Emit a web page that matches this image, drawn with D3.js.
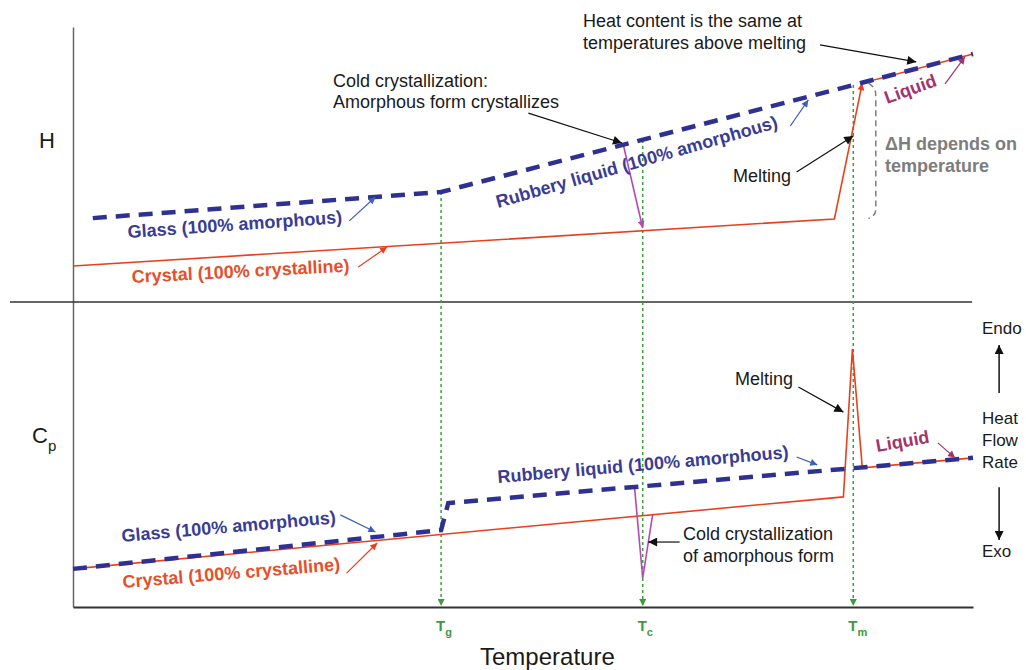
<!DOCTYPE html>
<html>
<head>
<meta charset="utf-8">
<script src="https://cdn.jsdelivr.net/npm/d3@7"></script>
<style>
  html, body { margin: 0; padding: 0; background: #ffffff; }
  svg { display: block; font-family: "Liberation Sans", Arial, sans-serif; }
</style>
</head>
<body>
<svg id="chart" width="1026" height="670"></svg>
<script>
// Relative temperature (0–100) and relative H / Cp values (0–100 in each panel)
const transitionNames = ["g", "c", "m"];
const transitionTemps = [40.9, 63.3, 86.7];
const guideStartH = [40, 58.9, 78.9];

// Enthalpy panel
const hAmorphous = [[2.2, 30.5], [40.9, 40], [100, 90.2]];
const hCrystal = [[0, 13.1], [84.6, 30.2], [87.7, 79.6], [100, 90.2]];
const hColdCryst = [[61.1, 57.8], [63.3, 26.9]];

// Heat capacity panel
const cpAmorphous = [[0, 12.5], [40.9, 25.2], [41.7, 34.1], [100, 48.9]];
const cpCrystal = [[0, 12.5], [85.6, 36.1], [86.6, 84.6], [87.7, 45.6], [100, 48.9]];
const cpColdCryst = [[62.4, 39], [63.3, 9.5], [64.4, 30.2]];

const BLUE = "#2e3192", BLUE_TXT = "#3a3c94", BLUE_ARROW = "#3c5fb8";
const RED = "#e8401c", RED_TXT = "#e5502c";
const GREEN = "#3c9c3c", PURPLE = "#b648b6", LIQ = "#a3336a", GREY = "#7d7d7d";

const svg = d3.select("#chart");
const x = d3.scaleLinear().domain([0, 100]).range([73, 973]);
const yH = d3.scaleLinear().domain([0, 100]).range([302, 27]);
const yCp = d3.scaleLinear().domain([0, 100]).range([607, 302]);

// arrowhead markers
const defs = svg.append("defs");
function marker(id, color, w, h) {
  defs.append("marker").attr("id", id)
    .attr("viewBox", "0 0 10 10").attr("refX", 10).attr("refY", 5)
    .attr("markerUnits", "userSpaceOnUse")
    .attr("markerWidth", w).attr("markerHeight", h)
    .attr("orient", "auto")
    .append("path").attr("d", "M0,0 L10,5 L0,10 Z").attr("fill", color);
}
marker("ah-black", "#111", 12, 9);
marker("ah-blue", BLUE_ARROW, 9, 7);
marker("ah-red", RED, 9, 7);
marker("ah-purple", PURPLE, 9, 7);
marker("ah-liq", LIQ, 9, 7);
marker("ah-green", GREEN, 8, 7);

// axes: shared left axis, panel separator, temperature axis
svg.append("g").attr("transform", `translate(${x(0)},0)`)
  .call(d3.axisLeft(d3.scaleLinear().range([yH(100), yCp(0)])).tickValues([]).tickSizeOuter(0))
  .select(".domain").attr("stroke", "#666").attr("stroke-width", 1.5);
svg.append("line").attr("x1", 10).attr("x2", x(99.9))
  .attr("y1", yH(0)).attr("y2", yH(0)).attr("stroke", "#333").attr("stroke-width", 1.5);
svg.append("g").attr("transform", `translate(0,${yCp(0)})`)
  .call(d3.axisBottom(x).tickValues([]).tickSizeOuter(0))
  .select(".domain").attr("stroke", "#333").attr("stroke-width", 2);

const lineH = d3.line().x(d => x(d[0])).y(d => yH(d[1]));
const lineCp = d3.line().x(d => x(d[0])).y(d => yCp(d[1]));

// transition guides (dotted green, down to the temperature axis)
transitionTemps.forEach((t, i) => {
  svg.append("line")
    .attr("x1", x(t)).attr("x2", x(t))
    .attr("y1", yH(guideStartH[i])).attr("y2", yCp(0) - 1)
    .attr("stroke", GREEN).attr("stroke-width", 1.5).attr("stroke-dasharray", "3,3")
    .attr("marker-end", "url(#ah-green)");
  const lab = svg.append("text").attr("x", x(t) - 5).attr("y", 631)
    .attr("fill", GREEN).attr("font-weight", "bold").attr("font-size", 15).text("T");
  lab.append("tspan").attr("dy", 5).attr("font-size", 11).text(transitionNames[i]);
});

// crystal curves
svg.append("path").attr("d", lineH(hCrystal)).attr("fill", "none")
  .attr("stroke", RED).attr("stroke-width", 1.6);
svg.append("path").attr("d", lineH([hCrystal[1], hCrystal[2]])).attr("fill", "none")
  .attr("stroke", "none").attr("marker-end", "url(#ah-red)");
svg.append("path").attr("d", lineCp(cpCrystal)).attr("fill", "none")
  .attr("stroke", RED).attr("stroke-width", 1.6);

// cold crystallization
svg.append("path").attr("d", lineH(hColdCryst)).attr("fill", "none")
  .attr("stroke", PURPLE).attr("stroke-width", 1.6).attr("marker-end", "url(#ah-purple)");
svg.append("path").attr("d", lineCp(cpColdCryst)).attr("fill", "none")
  .attr("stroke", PURPLE).attr("stroke-width", 1.6);

// amorphous (glass -> rubbery liquid) curves
svg.append("path").attr("d", lineH(hAmorphous)).attr("fill", "none")
  .attr("stroke", BLUE).attr("stroke-width", 4.5).attr("stroke-dasharray", "14,9");
svg.append("path").attr("d", lineCp(cpAmorphous)).attr("fill", "none")
  .attr("stroke", BLUE).attr("stroke-width", 4.5).attr("stroke-dasharray", "14,9");

// annotation arrows
function arrow(ys, from, to, color, mk, w) {
  svg.append("line")
    .attr("x1", x(from[0])).attr("y1", ys(from[1]))
    .attr("x2", x(to[0])).attr("y2", ys(to[1]))
    .attr("stroke", color).attr("stroke-width", w || 1.2)
    .attr("marker-end", `url(#${mk})`);
}
arrow(yH, [83, 93.5], [93.7, 87.3], "#111", "ah-black");
arrow(yH, [50.6, 68.7], [61, 57.8], "#111", "ah-black");
arrow(yH, [80.4, 47.3], [86.7, 60.4], "#111", "ah-black");
arrow(yH, [79.7, 64], [81.7, 73.5], BLUE_ARROW, "ah-blue");
arrow(yH, [30.7, 29.5], [33.6, 38.2], BLUE_ARROW, "ah-blue");
arrow(yH, [31.7, 12.7], [34.9, 20], RED, "ah-red");
arrow(yH, [96.9, 79.3], [99.1, 89.1], LIQ, "ah-liq");

arrow(yCp, [29.7, 30.2], [33.6, 24.6], BLUE_ARROW, "ah-blue");
arrow(yCp, [30.4, 11.1], [33.8, 21], RED, "ah-red");
arrow(yCp, [80.4, 49.2], [82.7, 46.6], BLUE_ARROW, "ah-blue");
arrow(yCp, [80.6, 72.1], [85.6, 63.9], "#111", "ah-black");
arrow(yCp, [96.1, 53.8], [98, 48.9], LIQ, "ah-liq");
arrow(yCp, [67.4, 21.3], [63.9, 21.3], "#111", "ah-black");
arrow(yCp, [102.9, 70.2], [102.9, 85.9], "#111", "ah-black", 1.5);
arrow(yCp, [102.9, 39.3], [102.9, 22], "#111", "ah-black", 1.5);

// ΔH bracket
svg.append("path")
  .attr("d", d3.line().curve(d3.curveBasis).x(d => x(d[0])).y(d => yH(d[1]))(
    [[88.4, 79.6], [89.2, 77.5], [89.2, 75], [89.2, 50], [89.2, 34], [89.2, 32], [88.4, 30.3]]))
  .attr("fill", "none").attr("stroke", GREY).attr("stroke-width", 1.5).attr("stroke-dasharray", "6,4");

// text
function txt(s, px, py, opt) {
  opt = opt || {};
  const t = svg.append("text").attr("x", px).attr("y", py)
    .attr("font-size", opt.size || 18)
    .attr("font-weight", opt.bold ? "bold" : null)
    .attr("fill", opt.color || "#1a1a1a")
    .text(s);
  if (opt.rot) t.attr("transform", `rotate(${opt.rot},${px},${py})`);
  return t;
}
txt("H", 39, 148, { size: 22 });
const cp = txt("C", 32, 443, { size: 22 });
cp.append("tspan").attr("dy", 8).attr("font-size", 15).text("p");
txt("Temperature", 480, 665, { size: 24 });

txt("Cold crystallization:", 333, 87);
txt("Amorphous form crystallizes", 333, 108);
txt("Heat content is the same at", 583, 27);
txt("temperatures above melting", 583, 49);
txt("Melting", 733, 182);
txt("ΔH depends on", 885, 150, { bold: true, color: GREY });
txt("temperature", 885, 172, { bold: true, color: GREY });
txt("Glass (100% amorphous)", 128, 238, { bold: true, color: BLUE_TXT, rot: -4 });
txt("Crystal (100% crystalline)", 132, 283, { bold: true, color: RED_TXT, rot: -3 });
txt("Rubbery liquid (100% amorphous)", 498, 208, { bold: true, color: BLUE_TXT, rot: -16 });
txt("Liquid", 887, 104, { bold: true, color: LIQ, rot: -20 });

txt("Glass (100% amorphous)", 122, 542, { bold: true, color: BLUE_TXT, rot: -5 });
txt("Crystal (100% crystalline)", 123, 588, { bold: true, color: RED_TXT, rot: -4.7 });
txt("Rubbery liquid (100% amorphous)", 498, 483, { bold: true, color: BLUE_TXT, rot: -4.9 });
txt("Melting", 735, 385);
txt("Liquid", 877, 452, { bold: true, color: LIQ, rot: -10 });
txt("Cold crystallization", 683, 540);
txt("of amorphous form", 683, 562);
txt("Endo", 982, 334, { size: 17 });
txt("Heat", 982, 424, { size: 17 });
txt("Flow", 982, 446, { size: 17 });
txt("Rate", 982, 468, { size: 17 });
txt("Exo", 982, 557, { size: 17 });
</script>
</body>
</html>
